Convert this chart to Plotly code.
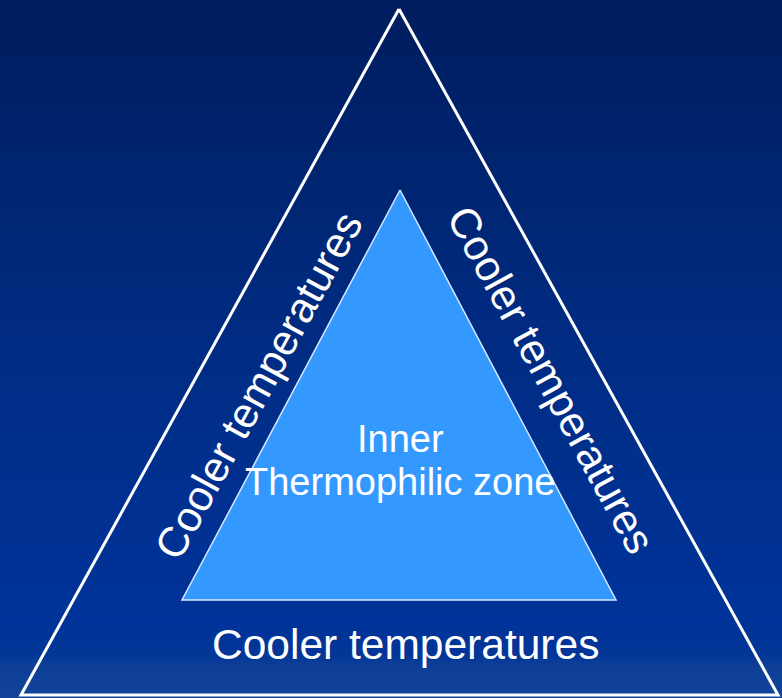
import plotly.graph_objects as go

W, H = 782, 698

# background gradient stops (pixel row, colour)
bg_rows = [0, 120, 300, 480, 620, 655, 665, 698]
bg_cols = ["#001d5e", "#00226a", "#002a7e", "#00308f", "#003399", "#033697", "#0d3f98", "#124499"]

# triangle vertices (pixel coordinates of the diagram)
outer_x = [399, 21, 778, 399]
outer_y = [9, 695, 695, 9]
inner_x = [400, 182, 616, 400]
inner_y = [190, 600, 600, 190]

label_side = "Cooler temperatures"
label_inner = ["Inner", "Thermophilic zone"]

fig = go.Figure()

# gradient background as a heatmap
z = [[i, i] for i in range(len(bg_rows))]
n = len(bg_rows) - 1
colorscale = [[i / n, c] for i, c in enumerate(bg_cols)]
fig.add_trace(go.Heatmap(
    x=[0, W], y=bg_rows, z=z, colorscale=colorscale, showscale=False,
    zsmooth="best", hoverinfo="skip"))

fig.add_trace(go.Scatter(
    x=outer_x, y=outer_y, mode="lines", line=dict(color="white", width=3),
    hoverinfo="skip", showlegend=False))
fig.add_trace(go.Scatter(
    x=inner_x, y=inner_y, mode="lines", fill="toself", fillcolor="#3399ff",
    line=dict(color="#d8e6ff", width=1.5), hoverinfo="skip", showlegend=False))

font_side = dict(family="Liberation Sans, Arial, sans-serif", size=42.5, color="white")
font_in = dict(family="Liberation Sans, Arial, sans-serif", size=38, color="white")

fig.add_annotation(x=405, y=644, text=label_side, showarrow=False, font=font_side,
                   xanchor="center", yanchor="middle")
fig.add_annotation(x=258, y=386, text=label_side, showarrow=False, font=font_side,
                   textangle=-61.5, xanchor="center", yanchor="middle")
fig.add_annotation(x=551, y=379, text=label_side, showarrow=False, font=font_side,
                   textangle=61.5, xanchor="center", yanchor="middle")
fig.add_annotation(x=400, y=439, text=label_inner[0], showarrow=False, font=font_in,
                   xanchor="center", yanchor="middle")
fig.add_annotation(x=400, y=482, text=label_inner[1], showarrow=False, font=font_in,
                   xanchor="center", yanchor="middle")

fig.update_layout(
    width=W, height=H, margin=dict(l=0, r=0, t=0, b=0),
    paper_bgcolor="#002a7e", plot_bgcolor="#002a7e",
    xaxis=dict(range=[0, W], visible=False, fixedrange=True),
    yaxis=dict(range=[H, 0], visible=False, fixedrange=True),
    showlegend=False, hovermode=False,
)

fig.write_html("out.html", config={"displayModeBar": False, "staticPlot": True})

# remove the default page margin so the figure fills the window
with open("out.html", encoding="utf-8") as f:
    html = f.read()
html = html.replace("<head>", "<head><style>html,body{margin:0;padding:0;overflow:hidden;}</style>", 1)
with open("out.html", "w", encoding="utf-8") as f:
    f.write(html)
